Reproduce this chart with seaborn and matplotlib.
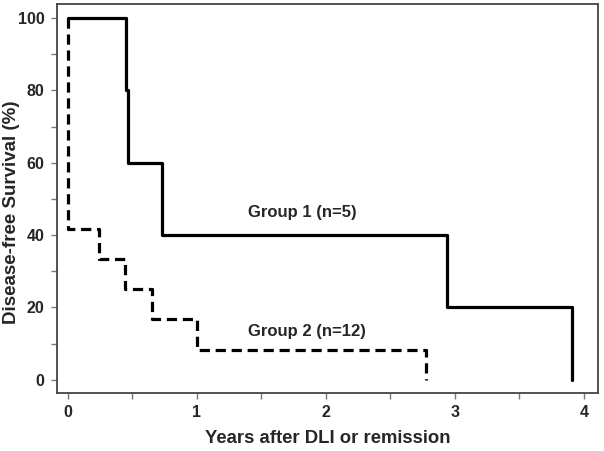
import pandas as pd
import numpy as np
import matplotlib
matplotlib.use('Agg')
import matplotlib.pyplot as plt
import seaborn as sns

# Kaplan-Meier steps (years, % disease-free)
g1_years = [0, 0.45, 0.47, 0.73, 2.94, 3.91]
g1_surv = [100, 80, 60, 40, 20, 0]
g2_years = [0, 0, 0.24, 0.44, 0.65, 1.0, 2.78]
g2_surv = [100, 41.7, 33.3, 25, 16.7, 8.3, 0]

x_ticks = [0, 0.5, 1, 1.5, 2, 2.5, 3, 3.5, 4]
x_ticklabels = ['0', '', '1', '', '2', '', '3', '', '4']
y_ticks = [0, 10, 20, 30, 40, 50, 60, 70, 80, 90, 100]
y_ticklabels = ['0', '', '20', '', '40', '', '60', '', '80', '', '100']

sns.set_style('ticks')
plt.rcParams['font.family'] = ['Liberation Sans', 'DejaVu Sans']
plt.rcParams['font.weight'] = 'bold'

df1 = pd.DataFrame({'years': g1_years, 'surv': g1_surv})
df2 = pd.DataFrame({'years': g2_years, 'surv': g2_surv})

fig = plt.figure(figsize=(6.04, 4.51), dpi=100)
ax = fig.add_axes([0.094, 0.129, 0.896, 0.862])

sns.lineplot(data=df1, x='years', y='surv', ax=ax, estimator=None, sort=False,
             drawstyle='steps-post', color='black', linewidth=2.3)
sns.lineplot(data=df2, x='years', y='surv', ax=ax, estimator=None, sort=False,
             drawstyle='steps-post', color='black', linewidth=2.3,
             linestyle=(0, (3.2, 1.8)))

ax.text(1.40, 46.4, 'Group 1 (n=5)', ha='left', va='center', fontsize=12, fontweight='bold')
ax.text(1.40, 13.3, 'Group 2 (n=12)', ha='left', va='center', fontsize=12, fontweight='bold')

ax.set_xlim(-0.085, 4.11)
ax.set_ylim(-3.6, 103.9)
ax.set_xticks(x_ticks)
ax.set_xticklabels(x_ticklabels, fontsize=11.5, fontweight='bold')
ax.set_yticks(y_ticks)
ax.set_yticklabels(y_ticklabels, fontsize=11.5, fontweight='bold')
ax.tick_params(axis='both', color='#777777', length=4, width=1, pad=5)
for s in ax.spines.values():
    s.set_color('#444444')
    s.set_linewidth(1.3)

ax.set_xlabel('Years after DLI or remission', fontsize=13.3, fontweight='bold', labelpad=7)
ax.set_ylabel('Disease-free Survival (%)', fontsize=13.5, fontweight='bold', labelpad=7)
ax.yaxis.set_label_coords(-0.068, 0.465)

fig.savefig('out.png', dpi=100)
